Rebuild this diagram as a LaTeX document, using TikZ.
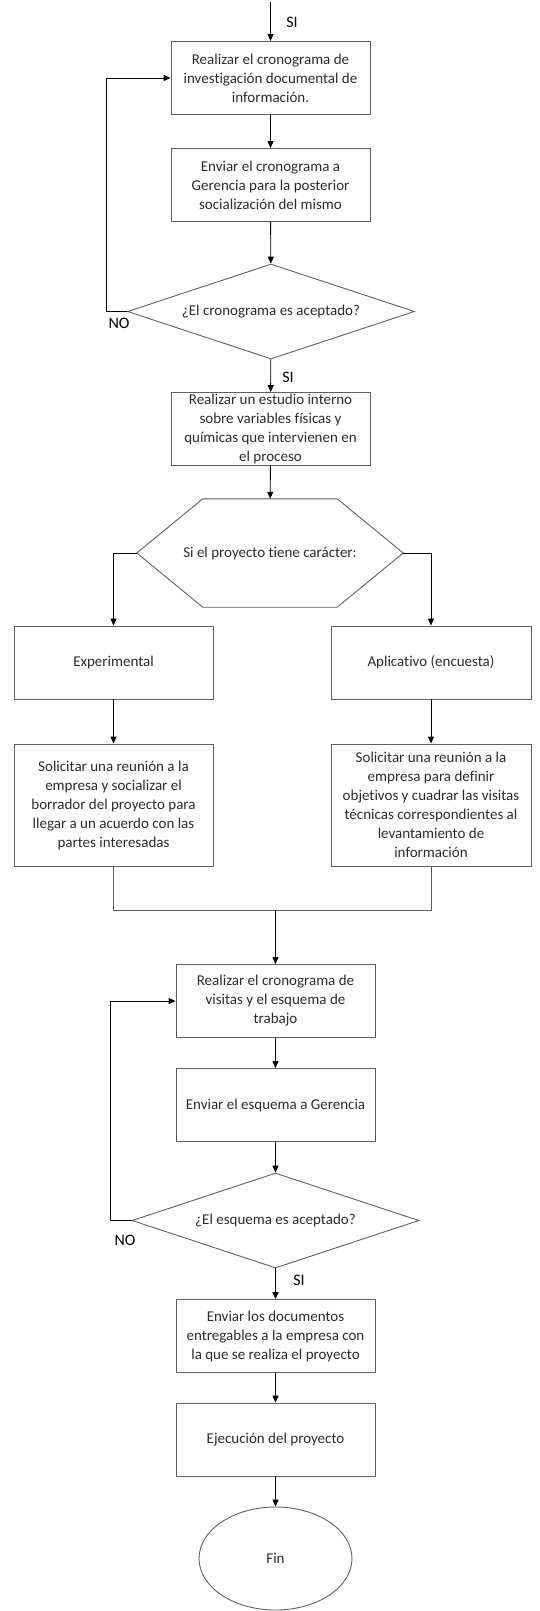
\documentclass[tikz,border=0pt]{standalone}
\usepackage{fontspec}
\setmainfont{Carlito}[Ligatures=NoCommon]
\usetikzlibrary{calc,arrows.meta,shapes.geometric}
\definecolor{boxline}{RGB}{95,95,95}
\definecolor{boxtext}{RGB}{45,40,50}
\tikzset{
	caja/.style={draw=boxline, line width=0.9pt, minimum width=199pt, minimum height=73pt, inner sep=0pt, align=center, text=boxtext, font=\fontsize{15}{19}\selectfont},
	rombo/.style={diamond, aspect=3, draw=boxline, line width=0.9pt, minimum width=287pt, minimum height=95pt, inner sep=0pt, text=boxtext, font=\fontsize{15}{19}\selectfont},
	hexa/.style={minimum width=266pt, minimum height=108pt, inner sep=0pt, text=boxtext, font=\fontsize{15}{19}\selectfont},
	flecha/.style={-{Triangle[length=7pt,width=6pt]}, line width=0.9pt, draw=black},
	linea/.style={line width=0.9pt, draw=boxline},
	etiqueta/.style={font=\fontsize{16}{19}\selectfont, text=black}
}

\begin{document}
\begin{tikzpicture}[x=1pt, y=-1pt]
			%%%%% START %%%%%
			\useasboundingbox (0, 0) rectangle (540, 1611);
			
			\coordinate (inicio) at (270.5, 2);
			\node[caja] (crono) at (270.5, 78) {Realizar el cronograma de\\investigación documental de\\información.};
			\node[caja] (envio) at (270.5, 185) {Enviar el cronograma a\\Gerencia para la posterior\\socialización del mismo};
			\node[rombo] (acepta) at (271, 311.5) {¿El cronograma es aceptado?};
			\node[caja] (estudio) at (270.5, 429) {Realizar un estudio interno\\sobre variables físicas y\\químicas que intervienen en\\el proceso};
			
			\node[hexa] (caracter) at (270, 553) {Si el proyecto tiene carácter:};
			\draw[linea] (caracter.west) -- ($(caracter.north west)+(66, 0)$) -- ($(caracter.north east)+(-66, 0)$) -- (caracter.east) -- ($(caracter.south east)+(-66, 0)$) -- ($(caracter.south west)+(66, 0)$) -- cycle;
			
			\node[caja] (exper) at (113.5, 662.5) {Experimental};
			\node[caja, minimum width=200pt] (aplic) at (431, 662.5) {Aplicativo (encuesta)};
			\node[caja, minimum height=122pt] (reunion1) at (113.5, 805) {Solicitar una reunión a la\\empresa y socializar el\\borrador del proyecto para\\llegar a un acuerdo con las\\partes interesadas};
			\node[caja, minimum width=200pt, minimum height=122pt] (reunion2) at (431, 805) {Solicitar una reunión a la\\empresa para definir\\objetivos y cuadrar las visitas\\técnicas correspondientes al\\levantamiento de\\información};
			\coordinate (union) at (275.5, 910);
			
			\node[caja] (visitas) at (275.5, 1001) {Realizar el cronograma de\\visitas y el esquema de\\trabajo};
			\node[caja] (esquema) at (275.5, 1105) {Enviar el esquema a Gerencia};
			\node[rombo] (acepta2) at (275.5, 1220.5) {¿El esquema es aceptado?};
			\node[caja] (entrega) at (275.5, 1336) {Enviar los documentos\\entregables a la empresa con\\la que se realiza el proyecto};
			\node[caja] (ejecuta) at (275.5, 1439.5) {Ejecución del proyecto};
			\node[ellipse, draw=boxline, line width=0.9pt, minimum width=153pt, minimum height=103pt, inner sep=0pt, text=boxtext, font=\fontsize{15}{19}\selectfont] (fin) at (275.5, 1558.5) {Fin};
			
			% flechas
			\draw[flecha] (inicio) -- (crono);
			\draw[flecha] (crono) -- (envio);
			\draw[flecha] (envio) -- (acepta);
			\draw[flecha] (acepta) -- (estudio);
			\draw[flecha] (acepta.west) -- ++(-21, 0) |- (crono.west);
			\draw[flecha] (estudio) -- (caracter);
			\draw[flecha] (caracter.west) -| (exper.north);
			\draw[flecha] (caracter.east) -| (aplic.north);
			\draw[flecha] (exper) -- (reunion1);
			\draw[flecha] (aplic) -- (reunion2);
			\draw[linea] (reunion1.south) |- (union) -| (reunion2.south);
			\draw[flecha] (union) -- (visitas);
			\draw[flecha] (visitas) -- (esquema);
			\draw[flecha] (esquema) -- (acepta2);
			\draw[flecha] (acepta2.west) -- ++(-21, 0) |- (visitas.west);
			\draw[flecha] (acepta2) -- (entrega);
			\draw[flecha] (entrega) -- (ejecuta);
			\draw[flecha] (ejecuta) -- (fin);
			
			% etiquetas
			\node[etiqueta] (si1) at (292, 22) {SI};
			\node[etiqueta] (no1) at (119, 323) {NO};
			\node[etiqueta] (si2) at (288, 377) {SI};
			\node[etiqueta] (no2) at (125, 1240) {NO};
			\node[etiqueta] (si3) at (299, 1280) {SI};
			
			%%%%% END %%%%%
\end{tikzpicture}
\end{document}
